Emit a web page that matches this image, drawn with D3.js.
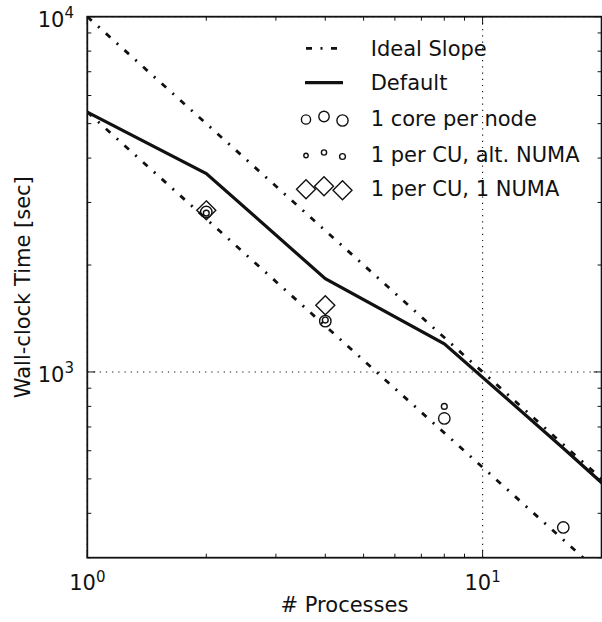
<!DOCTYPE html>
<html><head><meta charset="utf-8">
<script src="https://cdn.jsdelivr.net/npm/d3@7"></script>
<style>body{margin:0;background:#fff} svg{display:block} text{font-family:"DejaVu Sans",sans-serif;fill:#111}</style>
</head><body><svg id="c" width="602" height="622"></svg>
<script>
// ---- data ----
const processes = [1, 2, 4, 8, 16, 32];
const defaultTime = [5390, 3620, 1830, 1200, 610, 305];
const idealUpper = [10000, 5000, 2500, 1250, 625, 312.5];
const idealLower = [5390, 2695, 1347.5, 673.75, 336.875, 168.4375];
const coreX = [2, 4, 8, 16];
const coreTime = [2820, 1390, 740, 365];
const altX = [2, 4, 8];
const altTime = [2800, 1400, 800];
const numaX = [2, 4];
const numaTime = [2850, 1540];
const xMajor = [1, 10];
const xMinor = [2, 3, 4, 5, 6, 7, 8, 9, 20];
const xTickLabels = [["10", "0"], ["10", "1"]];
const yMajor = [1000, 10000];
const yMinor = [300, 400, 500, 600, 700, 800, 900, 2000, 3000, 4000, 5000, 6000, 7000, 8000, 9000];
const yTickLabels = [["10", "3"], ["10", "4"]];
const legendLabels = ["Ideal Slope", "Default", "1 core per node", "1 per CU, alt. NUMA", "1 per CU, 1 NUMA"];
const xTitle = "# Processes";
const yTitle = "Wall-clock Time [sec]";

// ---- layout ----
const L = 87.3, R = 601.6, T = 16.7, B = 557.7;
const svg = d3.select("#c");
const x = d3.scaleLog().domain([1, 20]).range([L, R]);
const y = d3.scaleLog().domain([300, 10000]).range([B, T]);
const ink = "#111";
const FS = 21, SUP = 15;

svg.append("defs").append("clipPath").attr("id", "clip")
  .append("rect").attr("x", L).attr("y", T).attr("width", R - L).attr("height", B - T);

// grid (major only)
const grid = svg.append("g").attr("stroke", ink).attr("stroke-width", 1.1).attr("stroke-dasharray", "1.2,5");
xMajor.forEach(v => grid.append("line").attr("x1", x(v)).attr("x2", x(v)).attr("y1", T).attr("y2", B));
yMajor.forEach(v => grid.append("line").attr("y1", y(v)).attr("y2", y(v)).attr("x1", L).attr("x2", R));

// data lines
const plot = svg.append("g").attr("clip-path", "url(#clip)");
const line = d3.line().x(d => x(d[0])).y(d => y(d[1]));
const dashDot = "6,8.5,2,8.5";
plot.append("path").datum(processes.map((p, i) => [p, idealUpper[i]]))
  .attr("d", line).attr("fill", "none").attr("stroke", ink).attr("stroke-width", 2.8).attr("stroke-dasharray", dashDot);
plot.append("path").datum(processes.map((p, i) => [p, idealLower[i]]))
  .attr("d", line).attr("fill", "none").attr("stroke", ink).attr("stroke-width", 2.8).attr("stroke-dasharray", dashDot);
plot.append("path").datum(processes.map((p, i) => [p, defaultTime[i]]))
  .attr("d", line).attr("fill", "none").attr("stroke", ink).attr("stroke-width", 3.2);

// markers
const diamond = s => `M0,${-s}L${s},0L0,${s}L${-s},0Z`;
const mk = plot.append("g").attr("fill", "none").attr("stroke", ink).attr("stroke-width", 1.4);
coreX.forEach((p, i) => mk.append("circle").attr("cx", x(p)).attr("cy", y(coreTime[i])).attr("r", 5.7));
altX.forEach((p, i) => mk.append("circle").attr("cx", x(p)).attr("cy", y(altTime[i])).attr("r", 2.9));
numaX.forEach((p, i) => mk.append("path").attr("d", diamond(9.5))
  .attr("transform", `translate(${x(p)},${y(numaTime[i])})`));

// ticks (inward, all four sides)
const tk = svg.append("g").attr("stroke", ink).attr("stroke-width", 1);
const tickX = (v, len) => {
  tk.append("line").attr("x1", x(v)).attr("x2", x(v)).attr("y1", B).attr("y2", B - len);
  tk.append("line").attr("x1", x(v)).attr("x2", x(v)).attr("y1", T).attr("y2", T + len);
};
const tickY = (v, len) => {
  tk.append("line").attr("y1", y(v)).attr("y2", y(v)).attr("x1", L).attr("x2", L + len);
  tk.append("line").attr("y1", y(v)).attr("y2", y(v)).attr("x1", R).attr("x2", R - len);
};
xMajor.forEach(v => tickX(v, 8));
xMinor.forEach(v => tickX(v, 4));
yMajor.forEach(v => tickY(v, 8));
yMinor.forEach(v => tickY(v, 4));

// frame
svg.append("rect").attr("x", L).attr("y", T).attr("width", R - L).attr("height", B - T)
  .attr("fill", "none").attr("stroke", ink).attr("stroke-width", 1.8);

// tick labels
xMajor.forEach((v, i) => {
  const t = svg.append("text").attr("x", x(v)).attr("y", 590).attr("text-anchor", "middle").attr("font-size", FS);
  t.append("tspan").text(xTickLabels[i][0]);
  t.append("tspan").attr("font-size", SUP).attr("dy", -8.5).text(xTickLabels[i][1]);
});
yMajor.forEach((v, i) => {
  const t = svg.append("text").attr("x", 74).attr("y", y(v) + 10).attr("text-anchor", "end").attr("font-size", FS);
  t.append("tspan").text(yTickLabels[i][0]);
  t.append("tspan").attr("font-size", SUP).attr("dy", -8.5).text(yTickLabels[i][1]);
});

// axis titles
svg.append("text").attr("x", (L + R) / 2).attr("y", 612).attr("text-anchor", "middle").attr("font-size", FS).text(xTitle);
svg.append("text").attr("transform", `translate(30,${(T + B) / 2}) rotate(-90)`)
  .attr("text-anchor", "middle").attr("font-size", FS).text(yTitle);

// legend
const rowY = [48.3, 82.7, 118.5, 154.5, 188.3];
const mX = [306, 324, 342.5];
const mDy = [1, -2, 2];
const lg = svg.append("g");
lg.append("line").attr("x1", 306).attr("x2", 343).attr("y1", rowY[0]).attr("y2", rowY[0])
  .attr("stroke", ink).attr("stroke-width", 2.8).attr("stroke-dasharray", dashDot);
lg.append("line").attr("x1", 305).attr("x2", 343).attr("y1", rowY[1]).attr("y2", rowY[1])
  .attr("stroke", ink).attr("stroke-width", 3.2);
const coreR = [4.6, 5.2, 5.6], altR = [2.2, 2.6, 2.9];
mX.forEach((mx, k) => {
  lg.append("circle").attr("cx", mx).attr("cy", rowY[2] + mDy[k]).attr("r", coreR[k])
    .attr("fill", "none").attr("stroke", ink).attr("stroke-width", 1.4);
  lg.append("circle").attr("cx", mx).attr("cy", rowY[3] + mDy[k]).attr("r", altR[k])
    .attr("fill", "none").attr("stroke", ink).attr("stroke-width", 1.4);
  lg.append("path").attr("d", diamond(9.5)).attr("transform", `translate(${mx},${rowY[4] + mDy[k]})`)
    .attr("fill", "none").attr("stroke", ink).attr("stroke-width", 1.4);
});
legendLabels.forEach((s, i) => lg.append("text").attr("x", 370.7).attr("y", rowY[i] + 7.6).attr("font-size", FS).text(s));
</script></body></html>
